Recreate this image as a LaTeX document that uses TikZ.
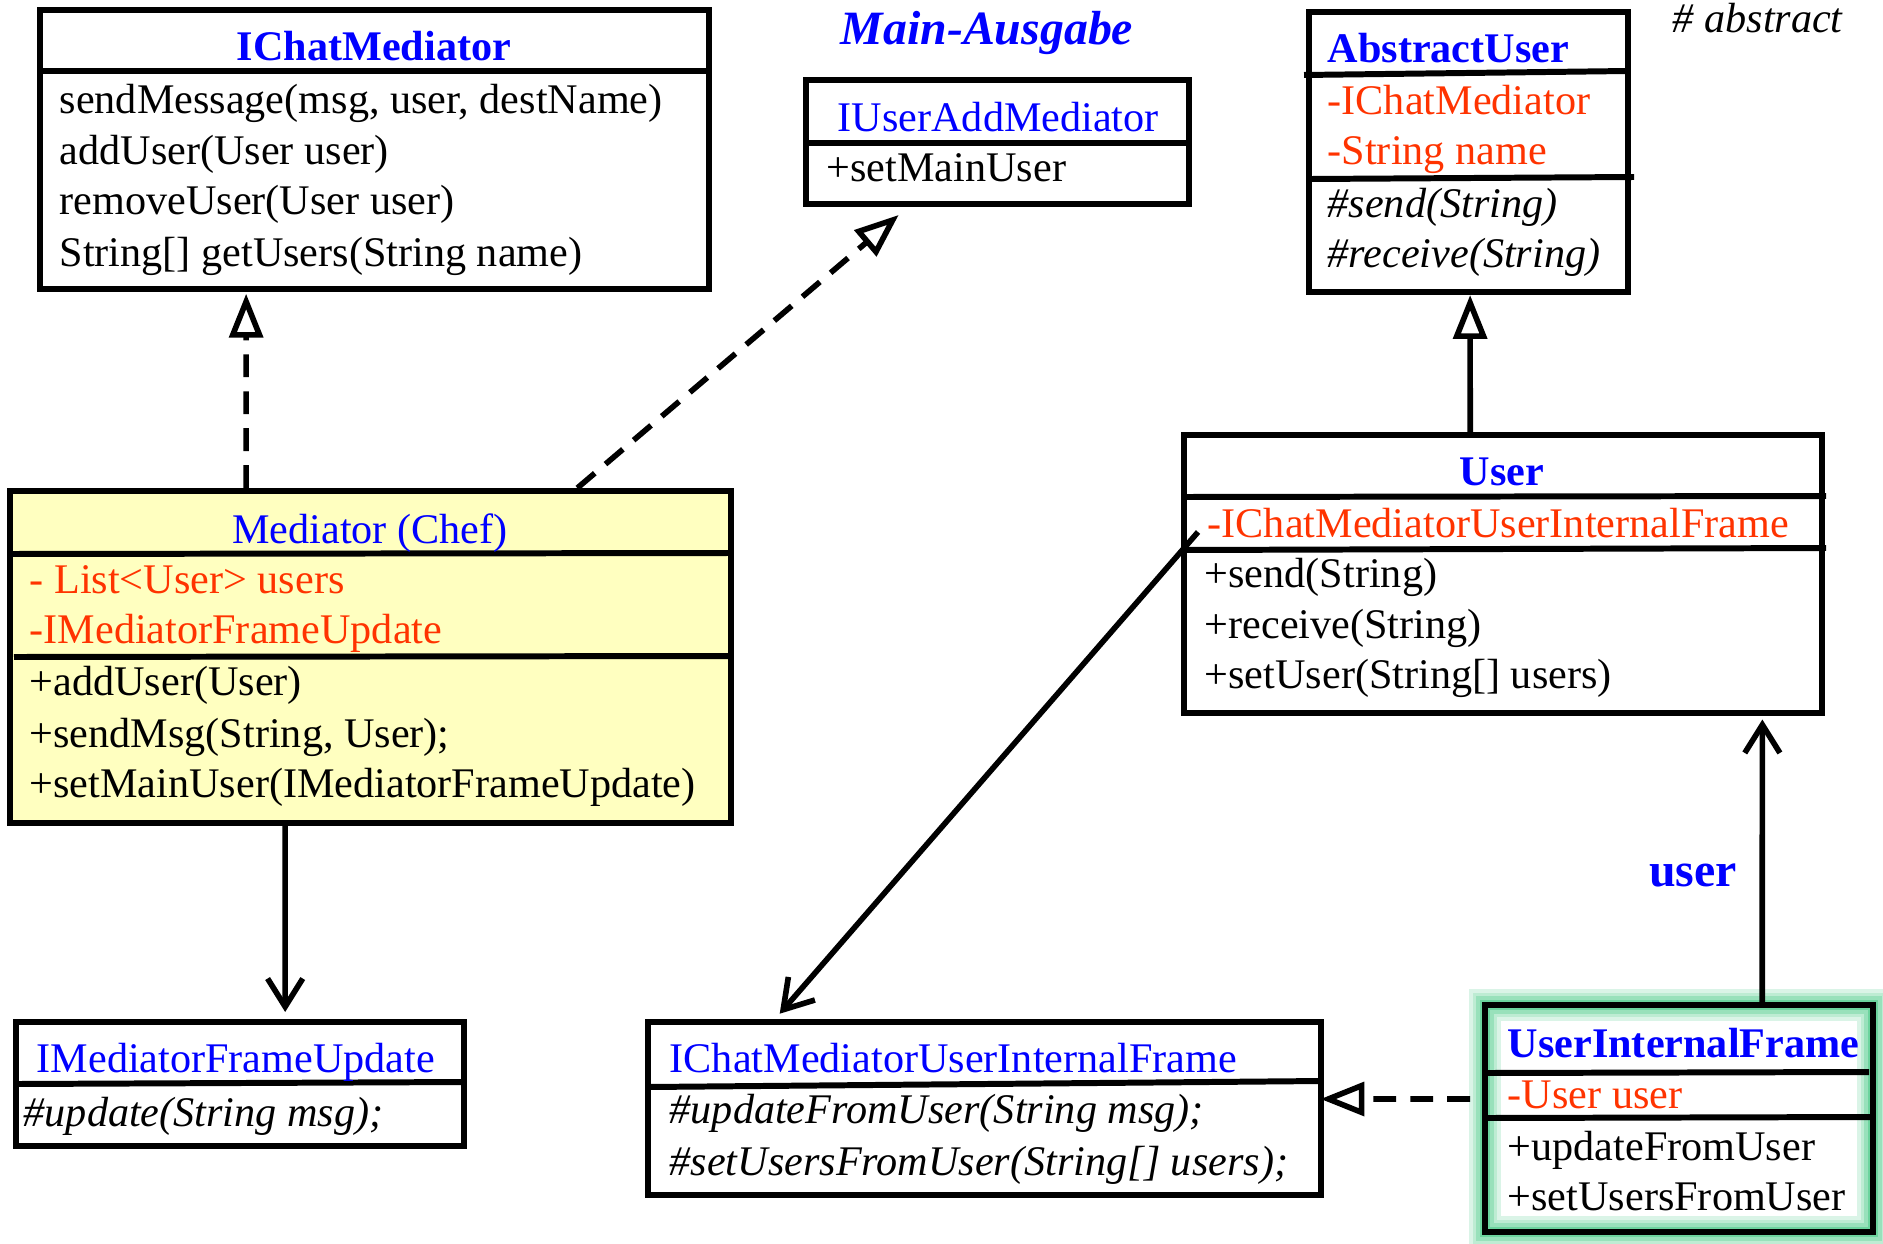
\documentclass[tikz,border=0pt]{standalone}
\usepackage{fontspec}
\setmainfont{Liberation Serif}
\usetikzlibrary{arrows.meta,fit}

\definecolor{titleblue}{RGB}{0,0,255}
\definecolor{attrred}{RGB}{255,51,0}
\definecolor{chefyellow}{RGB}{255,255,192}
\definecolor{glowgreen}{RGB}{108,212,158}

\tikzset{
   umlbox/.style={draw, line width=1.7pt, inner sep=0pt},
   divider/.style={line width=1.7pt},
   txt/.style={anchor=base west, inner sep=0pt, font=\fontsize{12}{14}\selectfont},
   clsname/.style={txt, text=titleblue},
   bclsname/.style={clsname, font=\fontsize{12}{14}\selectfont\bfseries},
   bigblue/.style={txt, anchor=base, text=titleblue, font=\fontsize{13.6}{16}\selectfont\bfseries},
   attr/.style={txt, text=attrred},
   absop/.style={txt, font=\fontsize{12}{14}\selectfont\itshape},
   realize/.style={line width=1.6pt, dash pattern=on 6.5pt off 4pt, -{Triangle[open,length=12.5pt,width=9.5pt]}},
   inherit/.style={line width=1.6pt, -{Triangle[open,length=12.5pt,width=9.5pt]}},
   assoc/.style={line width=1.6pt, -{Straight Barb[length=8pt,width=10pt]}}
}

\begin{document}
\begin{tikzpicture}[x=0.01cm, y=-0.01cm]
   \useasboundingbox (0,0) rectangle (1883,1243);

   % class boxes
   \node[umlbox, fit={(40,10) (709,289)}] (ichat) {};
   \node[umlbox, fit={(806,80) (1189,204)}] (iuser) {};
   \node[umlbox, fit={(1309,12) (1628,292)}] (abstract) {};
   \node[umlbox, fit={(1184,435) (1822,713)}] (user) {};
   \node[umlbox, fill=chefyellow, fit={(10,491) (731,823)}] (mediator) {};
   \node[umlbox, fit={(16,1022) (464,1146)}] (imfu) {};
   \node[umlbox, fit={(648,1022) (1321,1195)}] (icmuif) {};
   \foreach \w / \o in {9pt/25, 7pt/45, 5pt/70, 3pt/100} {
      \draw[glowgreen!\o, line width=\w] (1485,1005) rectangle (1873,1232);
   }
   \node[umlbox, fit={(1485,1005) (1873,1232)}] (uif) {};

   % compartments
   \def \Dividers {
      40/71/709/71,
      806/143/1189/143,
      1304/75/1628/71,
      1312/179/1634/177,
      1184/497/1826/496,
      1184/550/1826/548,
      8/554/731/553,
      14/657/731/656,
      16/1084/464/1082,
      648/1087/1321/1081,
      1485/1073/1869/1072,
      1485/1118/1873/1117}
   \foreach \xa / \ya / \xb / \yb in \Dividers {
      \draw[divider] (\xa,\ya) -- (\xb,\yb);
   }

   % class names
   \node[bclsname, anchor=base] (ichat-name) at (374,61) {IChatMediator};
   \node[clsname] (iuser-name) at (837,132) {IUserAddMediator};
   \node[bclsname] (abstract-name) at (1327,63) {AbstractUser};
   \node[bclsname, anchor=base] (user-name) at (1502,485) {User};
   \node[clsname, anchor=base] (mediator-name) at (370,543) {Mediator (Chef)};
   \node[clsname] (imfu-name) at (36,1072) {IMediatorFrameUpdate};
   \node[clsname] (icmuif-name) at (669,1072) {IChatMediatorUserInternalFrame};
   \node[bclsname] (uif-name) at (1507,1057) {UserInternalFrame};

   % members
   \def \Attributes {
      abstract-a1/1327/115/-IChatMediator,
      abstract-a2/1327/165/-String name,
      user-a1/1207/537/-IChatMediatorUserInternalFrame,
      mediator-a1/29/593/- List<User> users,
      mediator-a2/29/643/-IMediatorFrameUpdate,
      uif-a1/1507/1108/-User user}
   \def \Operations {
      ichat-o1/59/114/{sendMessage(msg, user, destName)},
      ichat-o2/59/165/addUser(User user),
      ichat-o3/59/215/removeUser(User user),
      ichat-o4/59/267/String[] getUsers(String name),
      iuser-o1/826/182/+setMainUser,
      user-o1/1204/587/+send(String),
      user-o2/1204/638/+receive(String),
      user-o3/1204/688/+setUser(String[] users),
      mediator-o1/29/695/+addUser(User),
      mediator-o2/29/747/{+sendMsg(String, User);},
      mediator-o3/29/797/+setMainUser(IMediatorFrameUpdate),
      uif-o1/1507/1160/+updateFromUser,
      uif-o2/1507/1210/+setUsersFromUser}
   \def \AbstractOps {
      abstract-o1/1327/218/\#send(String),
      abstract-o2/1327/268/\#receive(String),
      imfu-o1/23/1126/{\#update(String msg);},
      icmuif-o1/669/1123/{\#updateFromUser(String msg);},
      icmuif-o2/669/1175/{\#setUsersFromUser(String[] users);}}
   \foreach \n / \x / \y / \t in \Attributes {
      \node[attr] (\n) at (\x,\y) {\t};
   }
   \foreach \n / \x / \y / \t in \Operations {
      \node[txt] (\n) at (\x,\y) {\t};
   }
   \foreach \n / \x / \y / \t in \AbstractOps {
      \node[absop] (\n) at (\x,\y) {\t};
   }

   % notes
   \node[bigblue, font=\fontsize{13.6}{16}\selectfont\bfseries\itshape] (mainout) at (987,45) {Main-Ausgabe};
   \node[absop] (abstractnote) at (1672,33) {\# abstract};
   \node[bigblue] (userrole) at (1693,886) {user};

   % relations
   \draw[realize, shorten >=0.5pt] ([xshift=2.39cm]mediator.north west) -- ([xshift=2.09cm]ichat.south west);
   \draw[realize, shorten >=3.5pt] ([xshift=5.70cm]mediator.north west) -- ([xshift=1.05cm]iuser.south west);
   \draw[inherit] ([xshift=2.89cm]user.north west) -- ([xshift=1.64cm]abstract.south west);
   \draw[assoc, shorten >=2pt] ([xshift=2.78cm]mediator.south west) -- ([xshift=2.72cm]imfu.north west);
   \draw[assoc, shorten >=2pt] ([shift={(17,-42)}]user.west) -- ([xshift=1.30cm]icmuif.north west);
   \draw[assoc, shorten >=1pt] ([xshift=2.80cm]uif.north west) -- ([xshift=5.81cm]user.south west);
   \draw[realize, shorten >=-1pt] ([yshift=0.195cm, xshift=-0.12cm]uif.west) -- ([yshift=0.095cm]icmuif.east);
\end{tikzpicture}
\end{document}
